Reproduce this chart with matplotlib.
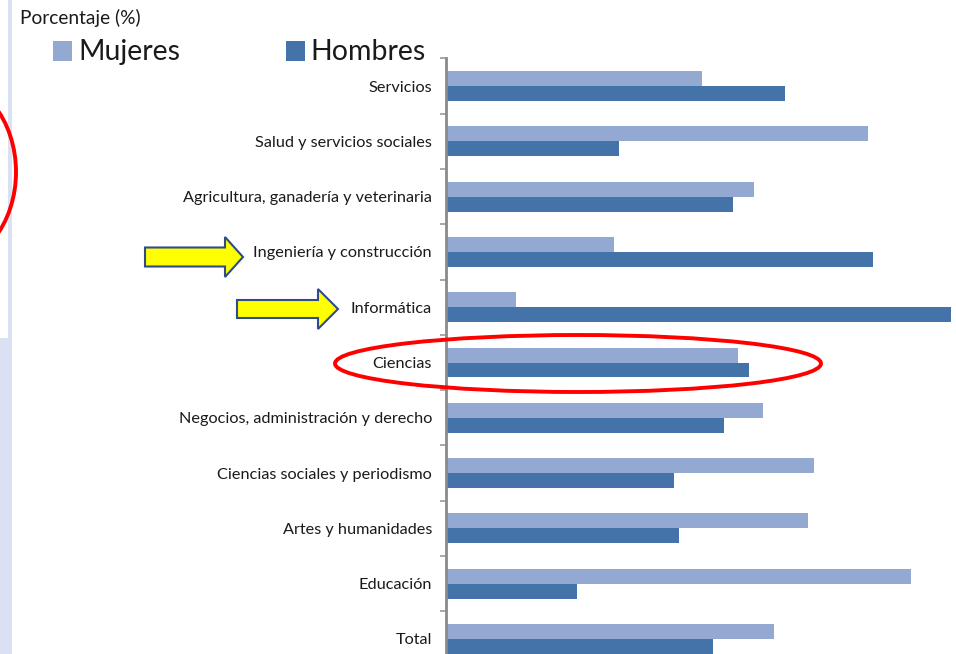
import numpy as np
import matplotlib
matplotlib.use('Agg')
import matplotlib.pyplot as plt
from matplotlib.patches import Ellipse, Polygon, Rectangle

plt.rcParams['font.family'] = ['Lato', 'DejaVu Sans']

categorias = ['Servicios', 'Salud y servicios sociales',
              'Agricultura, ganadería y veterinaria', 'Ingeniería y construcción',
              'Informática', 'Ciencias', 'Negocios, administración y derecho',
              'Ciencias sociales y periodismo', 'Artes y humanidades',
              'Educación', 'Total']
mujeres = [43.1, 71.0, 51.8, 28.3, 11.8, 49.1, 53.3, 61.8, 60.9, 78.1, 55.2]
hombres = [57.0, 29.1, 48.2, 71.7, 84.8, 50.9, 46.8, 38.3, 39.2, 22.0, 44.8]

C_MUJ = '#93A9D1'
C_HOM = '#4473A9'
W, H = 956, 654

fig = plt.figure(figsize=(W / 100, H / 100), dpi=100)
fig.patch.set_facecolor('white')

# chart axes, placed in pixels (bottom runs a bit off the picture)
x0, x1 = 446, 956
top, bot = 58.35, 666.65
ax = fig.add_axes([x0 / W, (H - bot) / H, (x1 - x0) / W, (bot - top) / H])
y = np.arange(len(categorias))
h = 0.27
ax.barh(y - h / 2, mujeres, height=h, color=C_MUJ)
ax.barh(y + h / 2, hombres, height=h, color=C_HOM)
ax.set_xlim(0, (x1 - x0) / 5.95)
ax.set_ylim(len(categorias) - 0.5, -0.5)
ax.set_yticks(y)
ax.set_yticklabels(categorias, fontsize=11.7, color='#1a1a1a')
ax.set_yticks(np.arange(-0.5, len(categorias), 1), minor=True)
ax.tick_params(axis='y', which='major', length=0, pad=10)
ax.tick_params(axis='y', which='minor', length=4, width=1.2, color='#999999')
ax.set_xticks([])
for s in ['top', 'right', 'bottom']:
    ax.spines[s].set_visible(False)
ax.spines['left'].set_color('#8a8a8a')
ax.spines['left'].set_linewidth(2)

# overlay in pixel coords for legend and the slide annotations
ov = fig.add_axes([0, 0, 1, 1], zorder=5)
ov.set_xlim(0, W)
ov.set_ylim(H, 0)
ov.axis('off')
ov.patch.set_alpha(0)

# slide border strip on the left
ov.add_patch(Rectangle((8, 0), 4, 338, color='#D9E1F2', lw=0))
ov.add_patch(Rectangle((0, 338), 12, H - 338, color='#D9E1F2', lw=0))

ov.text(20, 18, 'Porcentaje (%)', fontsize=13.8, color='#1a1a1a', va='center', ha='left')
ov.add_patch(Rectangle((53, 41), 19, 20, color=C_MUJ, lw=0))
ov.text(78, 52, 'Mujeres', fontsize=20.5, color='#1a1a1a', va='center', ha='left')
ov.add_patch(Rectangle((286, 41), 19, 20, color=C_HOM, lw=0))
ov.text(310, 52, 'Hombres', fontsize=20.5, color='#1a1a1a', va='center', ha='left')

# red ellipses
ov.add_patch(Ellipse((578, 363.5), 486, 57, fill=False, ec='red', lw=2.8))
ov.add_patch(Ellipse((-60, 172), 152, 190, fill=False, ec='red', lw=2.8))


def arrow(xl, xh, xt, yc, sh, hh):
    pts = [(xl, yc - sh), (xh, yc - sh), (xh, yc - hh), (xt, yc),
           (xh, yc + hh), (xh, yc + sh), (xl, yc + sh)]
    ov.add_patch(Polygon(pts, closed=True, fc='#FFFF00', ec='#2F4B8C', lw=1.5))


arrow(145, 225, 243, 257, 9.5, 20)
arrow(237, 318, 338, 309, 9, 20)

fig.savefig('out.png', dpi=100)
